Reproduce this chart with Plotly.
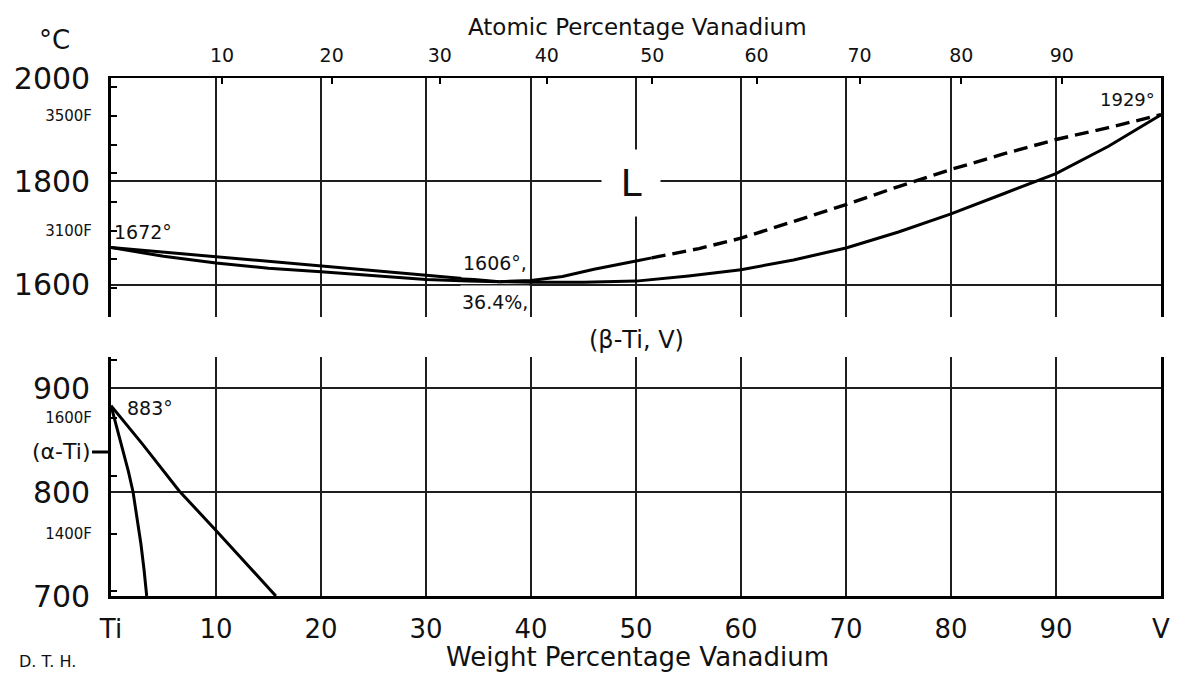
import plotly.graph_objects as go

# ---------------- data (weight % V, temperature in °C) ----------------
liq_left_x = [0, 5, 10, 15, 20, 25, 30, 34, 37]
liq_left_t = [1672, 1663, 1654, 1645, 1636, 1628, 1619, 1611, 1606]
sol_left_x = [0, 5, 10, 15, 20, 25, 30, 34, 37]
sol_left_t = [1672, 1655, 1642, 1632, 1625, 1617, 1610, 1607, 1606]

liq_right_x = [37, 40, 43, 46, 50, 51.5]
liq_right_t = [1606, 1608, 1616, 1630, 1646, 1652]
liq_dash_x = [51.5, 56, 60, 65, 70, 75, 80, 85, 90, 95, 100]
liq_dash_t = [1652, 1670, 1690, 1722, 1755, 1790, 1823, 1853, 1881, 1904, 1929]

sol_right_x = [37, 40, 45, 50, 55, 60, 65, 70, 75, 80, 85, 90, 95, 100]
sol_right_t = [1606, 1605, 1605, 1607, 1617, 1629, 1648, 1671, 1702, 1737, 1776, 1815, 1868, 1929]

alpha_x = [0, 0.6, 1.15, 1.65, 2.1, 2.5, 2.85, 3.15, 3.4]
alpha_t = [883, 860, 840, 820, 800, 775, 750, 725, 700]
beta_x = [0, 3, 6.5, 10, 15.7]
beta_t = [883, 846, 801, 763, 700]

wt_ticks = [0, 10, 20, 30, 40, 50, 60, 70, 80, 90, 100]
wt_labels = ["Ti", "10", "20", "30", "40", "50", "60", "70", "80", "90", "V"]
at_ticks = [10, 20, 30, 40, 50, 60, 70, 80, 90]
top_c_ticks = [1600, 1800, 2000]
bot_c_ticks = [700, 800, 900]
top_f_ticks = [2800, 2900, 3000, 3100, 3200, 3300, 3400, 3500, 3600]
top_f_labels = ["", "", "", "3100F", "", "", "", "3500F", ""]
bot_f_ticks = [1300, 1400, 1500, 1600, 1700]
bot_f_labels = ["", "1400F", "", "1600F", ""]

M_TI, M_V = 47.87, 50.94

def at_to_wt(a):
    return a * M_V / (a * M_V + (100 - a) * M_TI) * 100

def f_to_c(f):
    return (f - 32) * 5 / 9

FONT = "DejaVu Sans"
INK = "#111111"
GRID = "#1e1e1e"

# figure geometry (pixels)
W, H = 1181, 675
ML, MR, MT, MB = 111, 20, 78, 79
PW, PH = W - ML - MR, H - MT - MB

def px(x):
    return (x - ML) / PW

def py(y):
    return (H - MB - y) / PH

TOP_RANGE = [1537, 2000]
BOT_RANGE = [700, 930]
top_dom = [py(317.3), 1]
bot_dom = [0, py(356.8)]

fig = go.Figure()

line_style = dict(color="black", width=3)
fig.add_trace(go.Scatter(x=liq_left_x, y=liq_left_t, mode="lines", line=line_style, xaxis="x", yaxis="y"))
fig.add_trace(go.Scatter(x=sol_left_x, y=sol_left_t, mode="lines", line=line_style, xaxis="x", yaxis="y"))
fig.add_trace(go.Scatter(x=liq_right_x, y=liq_right_t, mode="lines", line=line_style, xaxis="x", yaxis="y"))
fig.add_trace(go.Scatter(x=liq_dash_x, y=liq_dash_t, mode="lines",
                         line=dict(color="black", width=3.4, dash="14px,7px"), xaxis="x", yaxis="y"))
fig.add_trace(go.Scatter(x=sol_right_x, y=sol_right_t, mode="lines", line=line_style, xaxis="x", yaxis="y"))
fig.add_trace(go.Scatter(x=alpha_x, y=alpha_t, mode="lines", line=line_style, xaxis="x2", yaxis="y2"))
fig.add_trace(go.Scatter(x=beta_x, y=beta_t, mode="lines", line=line_style, xaxis="x2", yaxis="y2"))
# dummy traces so the overlay axes are drawn
fig.add_trace(go.Scatter(x=[None], y=[None], xaxis="x3", yaxis="y"))
fig.add_trace(go.Scatter(x=[None], y=[None], xaxis="x", yaxis="y3"))
fig.add_trace(go.Scatter(x=[None], y=[None], xaxis="x2", yaxis="y4"))

common_x = dict(range=[0, 100], zeroline=False, fixedrange=True, automargin=False, tickangle=0)
common_y = dict(zeroline=False, fixedrange=True, automargin=False)

fig.update_layout(
    template="none",
    width=W, height=H,
    margin=dict(l=ML, r=MR, t=MT, b=MB, autoexpand=False),
    paper_bgcolor="white", plot_bgcolor="white",
    showlegend=False,
    font=dict(family=FONT, color=INK),
    xaxis=dict(**common_x, domain=[0, 1], anchor="y",
               tickvals=wt_ticks[1:-1], showticklabels=False, ticks="",
               showgrid=True, gridcolor=GRID, gridwidth=1.7, showline=False),
    xaxis3=dict(**common_x, overlaying="x", side="top", anchor="y",
                tickvals=[at_to_wt(a) for a in at_ticks],
                ticktext=[str(a) for a in at_ticks],
                ticks="inside", ticklen=6, tickwidth=1.5, tickcolor="black",
                ticklabelstandoff=6,
                tickfont=dict(size=19, family=FONT, color=INK),
                showgrid=False, showline=True, linecolor="black", linewidth=2.4),
    xaxis2=dict(**common_x, domain=[0, 1], anchor="y2",
                tickvals=wt_ticks, ticktext=wt_labels,
                ticks="", ticklabelstandoff=8,
                tickfont=dict(size=26, family=FONT, color=INK),
                showgrid=True, gridcolor=GRID, gridwidth=1.7,
                showline=True, linecolor="black", linewidth=2.6),
    yaxis=dict(**common_y, domain=top_dom, anchor="x", range=TOP_RANGE,
               tickvals=top_c_ticks, ticktext=[str(v) for v in top_c_ticks],
               ticks="", ticklabelstandoff=12,
               tickfont=dict(size=30, family=FONT, color=INK),
               showgrid=True, gridcolor=GRID, gridwidth=1.7,
               showline=True, mirror=True, linecolor="black", linewidth=2.6),
    yaxis3=dict(**common_y, overlaying="y", side="left", anchor="x", range=TOP_RANGE,
                tickvals=[f_to_c(f) for f in top_f_ticks],
                ticktext=top_f_labels,
                ticks="inside", ticklen=6, tickwidth=1.5, tickcolor="black",
                ticklabelstandoff=18,
                tickfont=dict(size=15, family=FONT, color=INK),
                showgrid=False, showline=False),
    yaxis2=dict(**common_y, domain=bot_dom, anchor="x2", range=BOT_RANGE,
                tickvals=bot_c_ticks, ticktext=[str(v) for v in bot_c_ticks],
                ticks="", ticklabelstandoff=12,
                tickfont=dict(size=30, family=FONT, color=INK),
                showgrid=True, gridcolor=GRID, gridwidth=1.7,
                showline=True, mirror=True, linecolor="black", linewidth=2.6),
    yaxis4=dict(**common_y, overlaying="y2", side="left", anchor="x2", range=BOT_RANGE,
                tickvals=[f_to_c(f) for f in bot_f_ticks],
                ticktext=bot_f_labels,
                ticks="inside", ticklen=6, tickwidth=1.5, tickcolor="black",
                ticklabelstandoff=18,
                tickfont=dict(size=15, family=FONT, color=INK),
                showgrid=False, showline=False),
)

ann = []
def paper_text(text, x, y, size, xanchor="center", yanchor="middle"):
    ann.append(dict(text=text, xref="paper", yref="paper", x=px(x), y=py(y),
                    xanchor=xanchor, yanchor=yanchor, showarrow=False,
                    font=dict(size=size, family=FONT, color=INK)))

paper_text("°C", 54, 40, 26)
paper_text("Atomic Percentage Vanadium", 637, 27, 23)
paper_text("Weight Percentage Vanadium", 637, 657, 26)
paper_text("D. T. H.", 17, 661, 16, xanchor="left")
paper_text("(β-Ti, V)", 636, 340, 24)

# field label with a gap in the grid behind it
ann.append(dict(text="L", xref="x", yref="y", x=49.5, y=1797, showarrow=False,
                font=dict(size=38, family=FONT, color=INK),
                bgcolor="white", width=56, height=64))
ann.append(dict(text="1606°,", xref="x", yref="y", x=36.6, y=1643, showarrow=False,
                font=dict(size=19, family=FONT, color=INK), bgcolor="white", height=26))
ann.append(dict(text="36.4%,", xref="x", yref="y", x=36.6, y=1567, showarrow=False,
                font=dict(size=19, family=FONT, color=INK), bgcolor="white", height=30))
ann.append(dict(text="1672°", xref="x", yref="y", x=0, y=1703, xanchor="left",
                xshift=1, showarrow=False, font=dict(size=19, family=FONT, color=INK)))
ann.append(dict(text="1929°", xref="x", yref="y", x=99.6, y=1958, xanchor="right",
                showarrow=False, font=dict(size=18, family=FONT, color=INK)))
ann.append(dict(text="883°", xref="x2", yref="y2", x=1.3, y=881, xanchor="left",
                showarrow=False, font=dict(size=19, family=FONT, color=INK)))
ann.append(dict(text="(α-Ti)", xref="x2", yref="y2", x=0, y=838.5,
                showarrow=True, ax=-19, ay=0, arrowhead=0, arrowwidth=3, arrowcolor="black",
                xanchor="right", standoff=0,
                font=dict(size=22, family=FONT, color=INK)))

fig.update_layout(annotations=ann)

fig.write_html("out.html")
